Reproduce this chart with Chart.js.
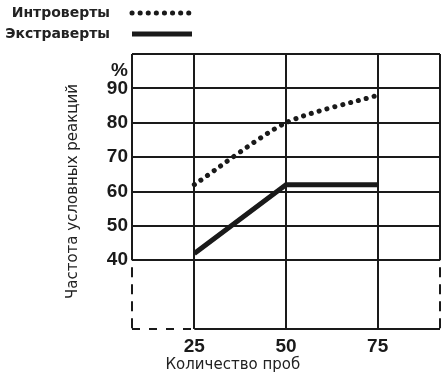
<!DOCTYPE html>
<html>
<head>
<meta charset="utf-8">
<script src="https://cdn.jsdelivr.net/npm/chart.js@4"></script>
<style>
  body { margin: 0; background: #fff; }
</style>
</head>
<body>
<canvas id="myChart" width="448" height="376"></canvas>
<script>
// Conditioned reflex frequency vs number of trials

const trials = [25, 50, 75];
const introverts = [62, 80, 88];
const extraverts = [42, 62, 62];
const yLabels = [40, 50, 60, 70, 80, 90];
const unitMark = "%";
const xTitle = "Количество проб";
const yTitle = "Частота условных реакций";

const ink = "#1a1a1a";
const tickFont = { family: "'Liberation Sans', sans-serif", size: 19, weight: "bold" };

const toPoints = (vals) => trials.map((t, i) => ({ x: t, y: vals[i] }));

const introDs = {
  label: "Интроверты",
  data: toPoints(introverts),
  borderColor: ink,
  borderWidth: 5,
  borderDash: [0.1, 8],
  borderCapStyle: "round",
  pointRadius: 0,
  tension: 0.25,
};

const extraDs = {
  label: "Экстраверты",
  data: toPoints(extraverts),
  borderColor: ink,
  borderWidth: 5,
  borderCapStyle: "butt",
  pointRadius: 0,
  tension: 0,
};

// legend: text on the left, line sample on the right
const sideLegend = {
  id: "sideLegend",
  afterDraw(chart) {
    const c = chart.ctx;
    chart.data.datasets.forEach((ds, i) => {
      const y = 13 + i * 21;
      c.save();
      c.font = "bold 14px 'DejaVu Sans'";
      c.fillStyle = "#222";
      c.textAlign = "right";
      c.textBaseline = "middle";
      c.fillText(ds.label, 110, y);
      c.strokeStyle = ds.borderColor;
      c.lineWidth = ds.borderWidth;
      c.lineCap = ds.borderCapStyle;
      c.setLineDash(ds.borderDash || []);
      c.beginPath();
      c.moveTo(132, y);
      c.lineTo(192, y);
      c.stroke();
      c.restore();
    });
  },
};

// frame with broken (dashed) lower part
const brokenFrame = {
  id: "brokenFrame",
  beforeDatasetsDraw(chart) {
    const { ctx: c, scales: { x, y } } = chart;
    const l = x.left, r = x.right, t = y.top, b = y.bottom;
    const cut = y.getPixelForValue(yLabels[0]);
    const x0 = x.getPixelForValue(trials[0]);
    const seg = (x1, y1, x2, y2) => { c.beginPath(); c.moveTo(x1, y1); c.lineTo(x2, y2); c.stroke(); };
    c.save();
    c.strokeStyle = ink;
    c.lineWidth = 2;
    seg(l, t, l, cut);
    seg(r, t, r, cut);
    seg(x0, b, r, b);
    c.setLineDash([10, 7]);
    c.lineDashOffset = 10;
    seg(l, cut, l, b);
    seg(r, cut, r, b);
    c.lineDashOffset = 0;
    c.setLineDash([8, 9]);
    seg(l, b, x0, b);
    c.restore();
  },
};

// x-axis title sits left of centre in the original
const xTitlePlugin = {
  id: "xTitlePlugin",
  afterDraw(chart) {
    const c = chart.ctx;
    c.save();
    c.font = "15px 'DejaVu Sans'";
    c.fillStyle = "#222";
    c.textAlign = "center";
    c.textBaseline = "middle";
    c.fillText(xTitle, chart.scales.x.getPixelForValue(35.5), 365);
    c.restore();
  },
};

const config = {
  type: "line",
  data: { datasets: [introDs, extraDs] },
  options: {
    responsive: false,
    animation: false,
    devicePixelRatio: 1,
    layout: { padding: { top: 54, right: 8, left: 0, bottom: 0 } },
    plugins: {
      legend: { display: false },
      tooltip: { enabled: false },
    },
    scales: {
      x: {
        type: "linear",
        min: 8,
        max: 92,
        afterBuildTicks: (s) => { s.ticks = trials.map((v) => ({ value: v })); },
        afterFit: (s) => { s.height = 47; },
        border: { display: false },
        grid: { color: ink, lineWidth: 2, drawTicks: false },
        ticks: { color: ink, font: tickFont, padding: 6 },
      },
      y: {
        min: 20,
        max: 100,
        afterBuildTicks: (s) => {
          const t = [];
          for (let v = 20; v <= 100; v += 5) t.push({ value: v });
          s.ticks = t;
        },
        afterFit: (s) => { s.width = 132; },
        border: { display: false },
        grid: {
          lineWidth: 2,
          drawTicks: false,
          color: (ctx) => {
            const v = ctx.tick && ctx.tick.value;
            return (yLabels.includes(v) || v === 100) ? ink : "rgba(0,0,0,0)";
          },
        },
        ticks: {
          color: ink,
          font: tickFont,
          padding: 4,
          autoSkip: false,
          callback: (v) => (yLabels.includes(v) ? String(v) : v === 95 ? unitMark : ""),
        },
        title: {
          display: true,
          text: yTitle,
          color: "#222",
          font: { family: "'DejaVu Sans'", size: 15 },
          padding: { top: 64, bottom: 0 },
        },
      },
    },
  },
  plugins: [brokenFrame, sideLegend, xTitlePlugin],
};

const chart = new Chart(document.querySelector("#myChart"), config);
</script>
</body>
</html>
